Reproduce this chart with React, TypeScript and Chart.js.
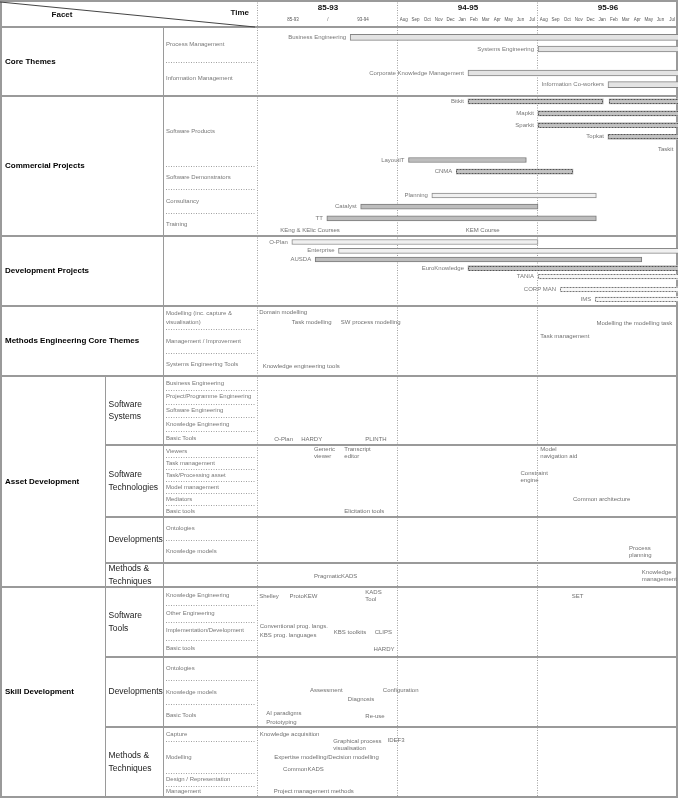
import React, { useEffect, useRef } from 'react';
import { Chart, registerables } from 'chart.js';

Chart.register(...registerables);

// ---- time axis: 0-12 = 85-93 (compressed), 12-24 = Aug 94..Jul 95, 24-36 = Aug 95..Jul 96
const periods = ['85-93', '94-95', '95-96'];
const earlyTicks = ['85-93', '/', '93-94'];
const months = ['Aug', 'Sep', 'Oct', 'Nov', 'Dec', 'Jan', 'Feb', 'Mar', 'Apr', 'May', 'Jun', 'Jul'];

// ---- facets (row position scale runs 27 at the top of the body to 797 at the bottom)
type Block = { section: string; group: string; span: [number, number]; rows: [string, number][] };
const blocks: Block[] = [
  { section: 'Core Themes', group: '', span: [27, 96], rows: [['Process Management', 1], ['Information Management', 1]] },
  { section: 'Commercial Projects', group: '', span: [96, 236], rows: [['Software Products', 3], ['Software Demonstrators', 1], ['Consultancy', 1], ['Training', 1]] },
  { section: 'Development Projects', group: '', span: [236, 306], rows: [] },
  { section: 'Methods Engineering Core Themes', group: '', span: [306, 376], rows: [['Modelling (inc. capture &\nvisualisation)', 1], ['Management / Improvement', 1], ['Systems Engineering Tools', 1]] },
  { section: 'Asset Development', group: 'Software\nSystems', span: [376, 445], rows: [['Business Engineering', 1], ['Project/Programme Engineering', 1], ['Software Engineering', 1], ['Knowledge Engineering', 1], ['Basic Tools', 1]] },
  { section: 'Asset Development', group: 'Software\nTechnologies', span: [445, 517], rows: [['Viewers', 1], ['Task management', 1], ['Task/Processing asset', 1], ['Model management', 1], ['Mediators', 1], ['Basic tools', 1]] },
  { section: 'Asset Development', group: 'Developments', span: [517, 563], rows: [['Ontologies', 1], ['Knowledge models', 1]] },
  { section: 'Asset Development', group: 'Methods &\nTechniques', span: [563, 587], rows: [] },
  { section: 'Skill Development', group: 'Software\nTools', span: [587, 657], rows: [['Knowledge Engineering', 1], ['Other Engineering', 1], ['Implementation/Development', 1], ['Basic tools', 1]] },
  { section: 'Skill Development', group: 'Developments', span: [657, 727], rows: [['Ontologies', 1], ['Knowledge models', 1], ['Basic Tools', 1]] },
  { section: 'Skill Development', group: 'Methods &\nTechniques', span: [727, 797], rows: [['Capture', 14], ['Modelling', 32], ['Design / Representation', 13], ['Management', 11]] },
];

// ---- bars: [label, start, end, row]
type Bar = [string, number, number, number];
const themeBars: Bar[] = [
  ['Business Engineering', 7.9, 37, 37.3],
  ['Systems Engineering', 24, 37, 49],
  ['Corporate Knowledge Management', 18, 37, 73],
  ['Information Co-workers', 30, 37, 84.7],
];
const activeBars: Bar[] = [
  ['LayoutIT', 12.9, 23, 160],
  ['Catalyst', 8.8, 24, 206.7],
  ['TT', 5.9, 29, 218.3],
  ['AUSDA', 4.9, 32.9, 259.5],
];
const plannedBars: Bar[] = [
  ['Bitkit', 18, 29.6, 101.3],
  ['', 30.1, 37, 101.3],
  ['Mapkit', 24, 37, 113.3],
  ['Sparkit', 24, 37, 125],
  ['Topkat', 30, 37, 136.8],
  ['CNMA', 17, 27, 171.7],
  ['EuroKnowledge', 18, 37, 268],
];
const lightBars: Bar[] = [
  ['Planning', 14.9, 29, 195.5],
  ['O-Plan', 2.9, 24, 242],
  ['Enterprise', 6.9, 37, 250.8],
];
const proposedBars: Bar[] = [
  ['TANIA', 24, 37, 276.8],
  ['CORP MAN', 25.9, 37, 289.5],
  ['IMS', 28.9, 37, 299],
];

// ---- free text notes: [text, time, row, align]
type Note = [string, number, number, string?];
const notes: Note[] = [
  ['Taskit', 35.6, 149.3, 'right'],
  ['KEng & KElic Courses', 1.9, 230],
  ['KEM Course', 17.8, 230],
  ['Domain modelling', 0.1, 312.5],
  ['Task modelling', 2.9, 322],
  ['SW process modelling', 7.1, 322],
  ['Modelling the modelling task', 35.5, 323, 'right'],
  ['Task management', 24.2, 336.5],
  ['Knowledge engineering tools', 0.4, 366],
  ['O-Plan', 1.4, 439],
  ['HARDY', 3.7, 439],
  ['PLINTH', 9.2, 439],
  ['Generic\nviewer', 4.8, 452.5],
  ['Transcript\neditor', 7.4, 452.5],
  ['Model\nnavigation aid', 24.2, 452.5],
  ['Constraint\nengine', 22.5, 476.5],
  ['Common architecture', 27, 499],
  ['Elicitation tools', 7.4, 511],
  ['Process\nplanning', 31.8, 551.5],
  ['PragmaticKADS', 4.8, 576],
  ['Knowledge\nmanagement', 32.9, 575.5],
  ['Shelley', 0.1, 596],
  ['ProtoKEW', 2.7, 596],
  ['KADS\nTool', 9.2, 595.5],
  ['SET', 26.9, 596],
  ['Conventional prog. langs.', 0.15, 626.5],
  ['KBS prog. languages', 0.15, 635.5],
  ['KBS toolkits', 6.5, 632],
  ['CLIPS', 10, 632],
  ['HARDY', 9.9, 649],
  ['Assessment', 4.45, 690],
  ['Diagnosis', 7.7, 699],
  ['Configuration', 10.7, 690],
  ['AI paradigms', 0.7, 713],
  ['Prototyping', 0.7, 722],
  ['Re-use', 9.2, 716],
  ['Knowledge acquisition', 0.15, 734],
  ['Graphical process\nvisualisation', 6.45, 744.5],
  ['IDEF3', 11.1, 740],
  ['Expertise modelling/Decision modelling', 1.4, 757],
  ['CommonKADS', 2.15, 769],
  ['Project management methods', 1.35, 791],
];

const FONT = '"Liberation Sans", Arial, Helvetica, sans-serif';
const FACET_COL = 163;
const GROUP_COL = 105;

function drawText(ctx: CanvasRenderingContext2D, text: string, x: number, y: number, align: CanvasTextAlign, lineH: number) {
  const lines = text.split('\n');
  const y0 = y - ((lines.length - 1) * lineH) / 2;
  ctx.textAlign = align;
  ctx.textBaseline = 'middle';
  lines.forEach((l, i) => ctx.fillText(l, x, y0 + i * lineH));
}

function seg(ctx: CanvasRenderingContext2D, x0: number, y0: number, x1: number, y1: number) {
  ctx.beginPath();
  ctx.moveTo(x0, y0);
  ctx.lineTo(x1, y1);
  ctx.stroke();
}

const tablePlugin = {
  id: 'facetTable',
  beforeDraw(chart: any) {
    const { ctx, width, height } = chart;
    ctx.save();
    ctx.fillStyle = '#ffffff';
    ctx.fillRect(0, 0, width, height);
    ctx.restore();
  },
  beforeDatasetsDraw(chart: any) {
    const ctx: CanvasRenderingContext2D = chart.ctx;
    const xs = chart.scales.x;
    const ys = chart.scales.y;
    const X = (v: number) => xs.getPixelForValue(v);
    const Y = (v: number) => ys.getPixelForValue(v);
    const W = chart.width;
    const bottom = Y(797);
    const tl = X(0);
    ctx.save();

    // dotted time dividers
    ctx.strokeStyle = '#a0a0a0';
    ctx.lineWidth = 1;
    ctx.setLineDash([1, 1.5]);
    [0, 12, 24].forEach((v) => {
      const px = Math.round(X(v)) - 0.5;
      seg(ctx, px, 0, px, bottom);
    });
    // dotted sub-row dividers
    blocks.forEach((b) => {
      const total = b.rows.reduce((s, r) => s + r[1], 0);
      let cum = 0;
      b.rows.forEach((r, i) => {
        cum += r[1];
        if (i < b.rows.length - 1) {
          const y = Math.round(Y(b.span[0] + ((b.span[1] - b.span[0]) * cum) / total)) + 0.5;
          seg(ctx, FACET_COL + 3, y, tl - 2, y);
        }
      });
    });
    ctx.setLineDash([]);

    // solid column lines
    ctx.strokeStyle = '#9a9a9a';
    ctx.lineWidth = 1;
    seg(ctx, FACET_COL + 0.5, Y(27), FACET_COL + 0.5, bottom);
    blocks.forEach((b) => {
      if (b.group) seg(ctx, GROUP_COL + 0.5, Y(b.span[0]), GROUP_COL + 0.5, Y(b.span[1]));
    });

    // section / group lines
    ctx.strokeStyle = '#9a9a9a';
    ctx.lineWidth = 2;
    seg(ctx, 0, 1, W, 1);
    seg(ctx, 0, Y(27), W, Y(27));
    blocks.forEach((b, i) => {
      if (i === 0) return;
      const prev = blocks[i - 1];
      const x0 = prev.section === b.section ? GROUP_COL : 0;
      seg(ctx, x0, Y(b.span[0]), W, Y(b.span[0]));
    });
    seg(ctx, 0, bottom, W, bottom);
    seg(ctx, 1, 0, 1, bottom);
    seg(ctx, W - 1, 0, W - 1, bottom);

    // header
    ctx.strokeStyle = '#444';
    ctx.lineWidth = 1;
    seg(ctx, 0, 2, 255, Y(27));
    ctx.fillStyle = '#111';
    ctx.font = `bold 8px ${FONT}`;
    drawText(ctx, 'Facet', 62, 15, 'center', 10);
    drawText(ctx, 'Time', 249, 13, 'right', 10);
    periods.forEach((p, i) => drawText(ctx, p, X(6 + 12 * i), 8, 'center', 10));
    ctx.fillStyle = '#555';
    ctx.font = `4.5px ${FONT}`;
    earlyTicks.forEach((t, i) => drawText(ctx, t, X(3 + 3 * i), 20, 'center', 6));
    months.forEach((m, i) => {
      drawText(ctx, m, X(12.5 + i), 20, 'center', 6);
      drawText(ctx, m, X(24.5 + i), 20, 'center', 6);
    });

    // facet labels
    const seen = new Set<string>();
    blocks.forEach((b) => {
      if (!seen.has(b.section)) {
        seen.add(b.section);
        const secBlocks = blocks.filter((o) => o.section === b.section);
        const top = secBlocks[0].span[0];
        const bot = secBlocks[secBlocks.length - 1].span[1];
        ctx.fillStyle = '#000';
        ctx.font = `bold 8px ${FONT}`;
        drawText(ctx, b.section, 5, Y((top + bot) / 2), 'left', 10);
      }
      if (b.group) {
        ctx.fillStyle = '#222';
        ctx.font = `8.5px ${FONT}`;
        drawText(ctx, b.group, 108.5, Y((b.span[0] + b.span[1]) / 2), 'left', 12.5);
      }
      const total = b.rows.reduce((s, r) => s + r[1], 0);
      let cum = 0;
      ctx.fillStyle = '#777';
      ctx.font = `6px ${FONT}`;
      b.rows.forEach((r) => {
        const a = b.span[0] + ((b.span[1] - b.span[0]) * cum) / total;
        cum += r[1];
        const c = b.span[0] + ((b.span[1] - b.span[0]) * cum) / total;
        drawText(ctx, r[0], FACET_COL + 3, Y((a + c) / 2), 'left', 9);
      });
    });
    ctx.restore();
  },
  afterDatasetsDraw(chart: any) {
    const ctx: CanvasRenderingContext2D = chart.ctx;
    const area = chart.chartArea;
    ctx.save();
    chart.data.datasets.forEach((ds: any, i: number) => {
      const meta = chart.getDatasetMeta(i);
      meta.data.forEach((el: any, j: number) => {
        const p = el.getProps(['x', 'y', 'base', 'height'], true);
        const x0 = Math.min(p.x, p.base);
        const x1 = Math.max(p.x, p.base);
        const h = p.height;
        if (ds.dashedBorder) {
          ctx.save();
          ctx.beginPath();
          ctx.rect(area.left, area.top, area.right - area.left, area.bottom - area.top);
          ctx.clip();
          ctx.strokeStyle = ds.dashedBorder;
          ctx.lineWidth = 1;
          ctx.setLineDash([2, 1]);
          ctx.strokeRect(Math.round(x0) + 0.5, Math.round(p.y - h / 2) + 0.5, Math.round(x1 - x0) - 1, Math.round(h) - 1);
          ctx.restore();
        }
        const name = ds.names[j];
        if (name) {
          ctx.fillStyle = '#777';
          ctx.font = `6px ${FONT}`;
          drawText(ctx, name, x0 - 4, p.y, 'right', 7);
        }
      });
    });
    const xs = chart.scales.x;
    const ys = chart.scales.y;
    ctx.fillStyle = '#707070';
    ctx.font = `6px ${FONT}`;
    notes.forEach((n) => {
      drawText(ctx, n[0], xs.getPixelForValue(n[1]), ys.getPixelForValue(n[2]), (n[3] as CanvasTextAlign) || 'left', 7);
    });
    ctx.restore();
  },
};

function barSet(label: string, bars: Bar[], bg: string, border: string, bw: number, thickness: number, dashed?: string) {
  return {
    label,
    data: bars.map((b) => ({ x: [b[1], b[2]], y: b[3] })),
    names: bars.map((b) => b[0]),
    backgroundColor: bg,
    borderColor: border,
    borderWidth: bw,
    borderSkipped: false,
    barThickness: thickness,
    grouped: false,
    dashedBorder: dashed,
  };
}

export default function App() {
  const ref = useRef<HTMLCanvasElement>(null);
  useEffect(() => {
    if (!ref.current) return;
    const chart = new Chart(ref.current, {
      type: 'bar',
      data: {
        datasets: [
          barSet('Core themes', themeBars, '#e3e3e3', '#858585', 1, 6),
          barSet('Active', activeBars, '#bdbdbd', '#7a7a7a', 1, 5),
          barSet('Planned', plannedBars, '#c2c2c2', '#000', 0, 5, '#555'),
          barSet('Light', lightBars, '#f0f0f0', '#8a8a8a', 1, 5),
          barSet('Proposed', proposedBars, '#f7f7f7', '#000', 0, 5, '#777'),
        ] as any,
      },
      options: {
        indexAxis: 'y',
        responsive: false,
        animation: false,
        layout: { padding: { left: 258, top: 27, right: 0, bottom: 0 } },
        scales: {
          x: { type: 'linear', min: 0, max: 36, display: false, offset: false, grace: 0 },
          y: { type: 'linear', min: 27, max: 798, reverse: true, display: false, offset: false, grace: 0 },
        },
        plugins: { legend: { display: false }, tooltip: { enabled: false }, title: { display: false } },
      } as any,
      plugins: [tablePlugin],
    });
    return () => chart.destroy();
  }, []);
  return (
    <div style={{ position: 'absolute', left: 0, top: 0, width: 678, height: 798 }}>
      <canvas ref={ref} width={678} height={798} style={{ width: 678, height: 798, display: 'block' }} />
    </div>
  );
}
